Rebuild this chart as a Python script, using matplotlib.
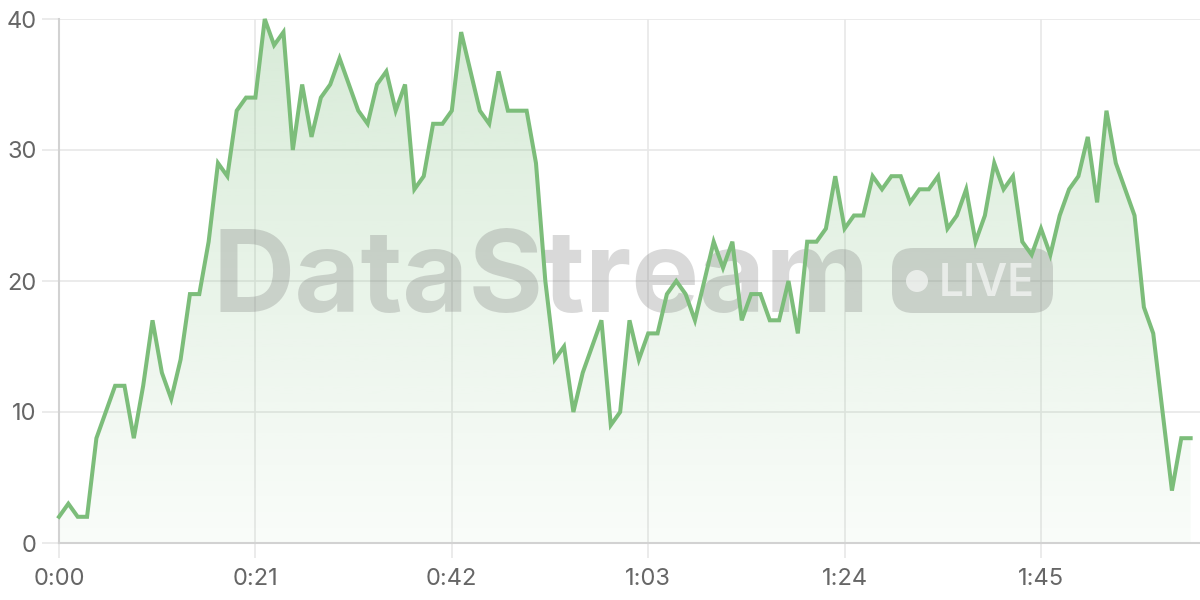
import numpy as np
import matplotlib
matplotlib.use("Agg")
import matplotlib.pyplot as plt
from matplotlib.patches import FancyBboxPatch, Circle
from matplotlib.colors import LinearSegmentedColormap

# ---- data ----
seconds = list(range(122))
values = [2, 3, 2, 2, 8, 10, 12, 12, 8, 12,
          17, 13, 11, 14, 19, 19, 23, 29, 28, 33,
          34, 34, 40, 38, 39, 30, 35, 31, 34, 35,
          37, 35, 33, 32, 35, 36, 33, 35, 27, 28,
          32, 32, 33, 39, 36, 33, 32, 36, 33, 33,
          33, 29, 20, 14, 15, 10, 13, 15, 17, 9,
          10, 17, 14, 16, 16, 19, 20, 19, 17, 20,
          23, 21, 23, 17, 19, 19, 17, 17, 20, 16,
          23, 23, 24, 28, 24, 25, 25, 28, 27, 28,
          28, 26, 27, 27, 28, 24, 25, 27, 23, 25,
          29, 27, 28, 23, 22, 24, 22, 25, 27, 28,
          31, 26, 33, 29, 27, 25, 18, 16, 10, 4,
          8, 8]
x_ticks = [0, 21, 42, 63, 84, 105]
x_tick_labels = ["0:00", "0:21", "0:42", "1:03", "1:24", "1:45"]
y_ticks = [0, 10, 20, 30, 40]
watermark_text = "DataStream"
badge_text = "LIVE"

W, H = 1200, 600
fig = plt.figure(figsize=(12, 6), dpi=100)
fig.patch.set_facecolor("white")

left_px, right_px, top_px, bottom_px = 59, 1200, 19, 543
ax = fig.add_axes([left_px / W, (H - bottom_px) / H,
                   (right_px - left_px) / W, (bottom_px - top_px) / H])
ax.set_facecolor("white")

x = np.array(seconds, dtype=float)
y = np.array(values, dtype=float)

line_color = "#7cbd7a"
grid_color = "#e8e8e8"
axis_color = "#d2d2d2"
label_color = "#666666"

px_per_unit = (1041 - 59) / 105.0
ax.set_xlim(0, (right_px - left_px) / px_per_unit)
ax.set_ylim(0, 40)

# gradient fill
poly = ax.fill_between(x, y, 0, color="none", lw=0, zorder=1)
grad = np.linspace(0, 1, 256).reshape(-1, 1)
cmap = LinearSegmentedColormap.from_list(
    "g", [(124/255, 189/255, 124/255, 0.04), (124/255, 189/255, 124/255, 0.30)])
im = ax.imshow(grad, extent=[x[0], x[-1], 0, 40], origin="lower", aspect="auto",
               cmap=cmap, zorder=1, interpolation="bilinear")
path = poly.get_paths()[0]
im.set_clip_path(path, transform=ax.transData)

# grid
ax.set_xticks(x_ticks)
ax.set_xticklabels(x_tick_labels)
ax.set_yticks(y_ticks)
ax.grid(True, color=grid_color, lw=1.2, zorder=0)
ax.set_axisbelow(True)

for s in ["top", "right"]:
    ax.spines[s].set_visible(False)
for s in ["left", "bottom"]:
    ax.spines[s].set_color(axis_color)
    ax.spines[s].set_linewidth(1.5)

ax.tick_params(axis="y", length=12, width=1.2, color=grid_color, pad=4,
               labelsize=17, labelcolor=label_color)
ax.tick_params(axis="x", length=11, width=1.2, color=grid_color, pad=7,
               labelsize=17, labelcolor=label_color)
for lab in ax.get_xticklabels() + ax.get_yticklabels():
    lab.set_family(["Inter", "DejaVu Sans"])

# watermark (display coords)
wm_color = (0.45, 0.45, 0.45, 0.27)
wm = ax.text(212, H - 312, watermark_text, transform=None, ha="left", va="baseline",
             fontsize=80, fontweight="bold", family=["Inter", "DejaVu Sans"],
             color=wm_color, zorder=2)
renderer = fig.canvas.get_renderer()
bb = wm.get_window_extent(renderer)
wm.set_fontsize(80 * 658.0 / bb.width)

pill = FancyBboxPatch((892, H - 313), 1053 - 892, 313 - 248,
                      boxstyle="round,pad=0,rounding_size=21", transform=None,
                      facecolor=wm_color, edgecolor="none", zorder=2)
ax.add_artist(pill)
ax.add_artist(Circle((917, H - 281), 11, transform=None,
                     facecolor=(1, 1, 1, 0.6), edgecolor="none", zorder=2))
lv = ax.text(939, H - 296, badge_text, transform=None, ha="left", va="baseline",
             fontsize=33, fontweight="semibold", family=["Inter", "DejaVu Sans"],
             color=(1, 1, 1, 0.6), zorder=2)
bb = lv.get_window_extent(renderer)
lv.set_fontsize(33 * 96.0 / bb.width)

# line
ax.plot(x, y, color=line_color, lw=2.9, solid_joinstyle="miter", zorder=3,
        clip_on=False)

fig.savefig("out.png", dpi=100, facecolor="white")
